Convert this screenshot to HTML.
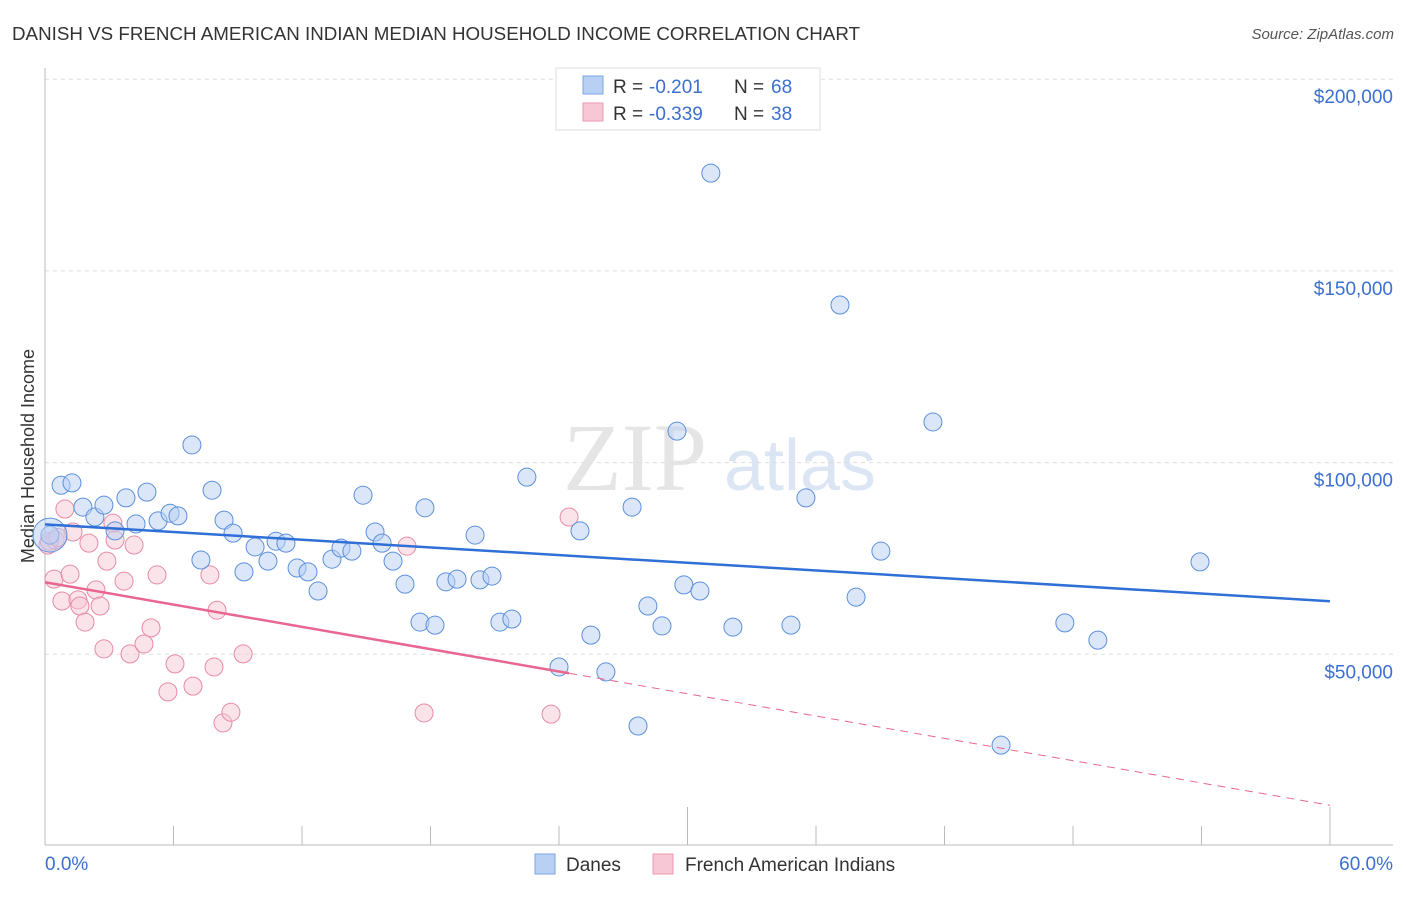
<!DOCTYPE html>
<html><head><meta charset="utf-8"><style>
body{margin:0;background:#fff;width:1406px;height:892px;overflow:hidden;font-family:"Liberation Sans",sans-serif}
</style></head><body>
<svg id="chart" width="1406" height="892" xmlns="http://www.w3.org/2000/svg" font-family="Liberation Sans, sans-serif">
<text x="12" y="40" font-size="18" fill="#333" textLength="848" lengthAdjust="spacingAndGlyphs">DANISH VS FRENCH AMERICAN INDIAN MEDIAN HOUSEHOLD INCOME CORRELATION CHART</text>
<text x="1394" y="39" font-size="15" fill="#555" font-style="italic" text-anchor="end">Source: ZipAtlas.com</text>
<text transform="translate(34,456) rotate(-90)" font-size="18" fill="#333" text-anchor="middle">Median Household Income</text>
<g opacity="0.5">
<text x="635" y="490" font-size="96" fill="#ccc" font-family="Liberation Serif, serif" text-anchor="middle">ZIP</text>
<text x="800" y="490" font-size="72" fill="#b8cdea" text-anchor="middle">atlas</text>
</g>
<g id="grid"></g><g id="axes"></g><g id="marks"></g>
<g>
<rect x="556" y="68" width="264" height="62" fill="#fff" stroke="#ddd"/>
<rect x="583" y="76" width="20" height="18" fill="#b7d0f3" stroke="#7ea6e0"/>
<rect x="583" y="103" width="20" height="18" fill="#f8c7d5" stroke="#eb98b0"/>
<text x="613" y="93" font-size="19" fill="#333">R =</text><text x="649" y="93" font-size="19" fill="#3b6fd1">-0.201</text>
<text x="734" y="93" font-size="19" fill="#333">N =</text><text x="771" y="93" font-size="19" fill="#3b6fd1">68</text>
<text x="613" y="120" font-size="19" fill="#333">R =</text><text x="649" y="120" font-size="19" fill="#3b6fd1">-0.339</text>
<text x="734" y="120" font-size="19" fill="#333">N =</text><text x="771" y="120" font-size="19" fill="#3b6fd1">38</text>
</g>
<g>
<rect x="535" y="854" width="20" height="20" fill="#b7d0f3" stroke="#7ea6e0"/>
<text x="566" y="871" font-size="19" fill="#333">Danes</text>
<rect x="653" y="854" width="20" height="20" fill="#f8c7d5" stroke="#eb98b0"/>
<text x="685" y="871" font-size="19" fill="#333">French American Indians</text>
</g>
</svg>
<script>
const yTicks=[50000,100000,150000,200000];
const yTickLabels=["$50,000","$100,000","$150,000","$200,000"];
const xTicks=[0,6,12,18,24,30,36,42,48,54,60];
const danesX=[0.75,1.26,1.77,2.33,2.75,3.27,3.78,4.25,4.76,5.28,5.84,6.21,6.86,7.28,7.80,8.36,8.78,9.29,9.81,10.41,10.79,11.25,11.77,12.28,12.75,13.40,13.82,14.33,14.85,15.41,15.74,16.25,16.81,17.51,17.74,18.21,18.72,19.24,20.08,20.31,20.87,21.24,21.80,22.50,24.00,24.98,25.49,26.19,27.41,27.69,28.15,28.81,29.51,29.83,30.58,31.09,32.12,34.83,35.53,37.12,37.87,39.03,41.46,44.64,47.62,49.16,53.93,0.23];
const danesY=[94.1,94.7,88.4,85.8,88.9,82.2,90.8,84.0,92.3,84.8,86.8,86.1,104.6,74.6,92.8,85.0,81.6,71.5,78.0,74.3,79.5,79.0,72.5,71.5,66.5,74.8,77.7,76.9,91.5,81.9,79.0,74.3,68.3,58.4,88.2,57.6,68.9,69.6,81.1,69.4,70.4,58.4,59.2,96.2,46.7,82.2,55.0,45.4,88.4,31.3,62.6,57.4,108.2,68.1,66.5,175.5,57.1,57.6,90.8,141.1,64.9,76.9,110.6,26.3,58.2,53.7,74.1,81.1];
const frenchX=[0.14,0.47,0.42,0.79,0.93,1.17,1.31,1.54,1.63,1.87,2.05,2.38,2.57,2.75,2.89,3.17,3.27,3.69,3.97,4.16,4.62,4.95,5.23,5.74,6.07,6.91,7.70,7.89,8.03,8.31,8.68,9.25,16.90,17.70,23.63,24.47,0.2,0.6];
const frenchY=[78.5,79.8,69.6,63.9,87.9,70.9,81.9,64.2,62.6,58.4,79.0,66.8,62.6,51.4,74.3,84.2,79.8,69.1,50.1,78.5,52.7,56.9,70.7,40.2,47.5,41.7,70.7,46.7,61.5,32.1,34.9,50.1,78.2,34.7,34.4,85.8,79.5,80.5];
const NS="http://www.w3.org/2000/svg";
const X=v=>45+v/60*1285, Y=k=>846-k*1000/50000*191.7;
function mk(t,a,p){const e=document.createElementNS(NS,t);for(const k in a)e.setAttribute(k,a[k]);p.appendChild(e);return e;}
const grid=document.getElementById('grid'),axes=document.getElementById('axes'),marks=document.getElementById('marks');
yTicks.forEach((v,i)=>{const y=Y(v/1000);
 const l=mk('line',{x1:45,x2:1393,y1:y,y2:y,stroke:'#ddd','stroke-dasharray':'4,4'},grid);
 
 const t=mk('text',{x:1393,y:y+24,'font-size':19,fill:'#3b6fd1','text-anchor':'end'},axes);t.textContent=yTickLabels[i];
 });
const ax=mk('line',{x1:45,x2:1393,y1:845,y2:845,stroke:'#bbb'},axes);
const ay=mk('line',{x1:45,x2:45,y1:68,y2:845,stroke:'#bbb'},axes);
xTicks.forEach(v=>{const x=X(v);const long=(v===30||v===60);
 const t=mk('line',{x1:x,x2:x,y1:long?807:826,y2:845,stroke:'#bbb'},axes);});
const l0=mk('text',{x:45,y:870,'font-size':19,fill:'#3b6fd1'},axes);l0.textContent='0.0%';
const l1=mk('text',{x:1393,y:870,'font-size':19,fill:'#3b6fd1','text-anchor':'end'},axes);l1.textContent='60.0%';
function reg(xs,ys){const n=xs.length;let sx=0,sy=0,sxx=0,sxy=0;for(let i=0;i<n;i++){sx+=xs[i];sy+=ys[i];sxx+=xs[i]*xs[i];sxy+=xs[i]*ys[i];}const b=(n*sxy-sx*sy)/(n*sxx-sx*sx);return [(sy-b*sx)/n,b];}
function dots(xs,ys,fill,stroke,name){xs.forEach((x,i)=>{const c=mk('circle',{cx:X(x),cy:Y(ys[i]),r:9,fill:fill,'fill-opacity':0.5,stroke:stroke,'stroke-width':1},marks);
 });}
dots(frenchX,frenchY,'#f8c7d5','#e88aa6','french-point');
dots(danesX,danesY,'#b7d0f3','#5b8fdc','danes-point');
const big=mk('circle',{cx:X(0.23),cy:Y(81.1),r:17,fill:'#b7d0f3','fill-opacity':0.5,stroke:'#5b8fdc'},marks);

const [a1,b1]=reg(danesX,danesY);
const t1=mk('line',{x1:X(0),y1:Y(a1),x2:X(60),y2:Y(a1+b1*60),stroke:'#2f6fd6','stroke-width':2.5},marks);

const [a2,b2]=reg(frenchX,frenchY);const xe=Math.max(...frenchX);
const t2=mk('line',{x1:X(0),y1:Y(a2),x2:X(xe),y2:Y(a2+b2*xe),stroke:'#e8668f','stroke-width':2.5},marks);

const t3=mk('line',{x1:X(xe),y1:Y(a2+b2*xe),x2:X(60),y2:Y(a2+b2*60),stroke:'#e8668f','stroke-width':1,'stroke-dasharray':'8,6'},marks);

</script>
</body></html>
